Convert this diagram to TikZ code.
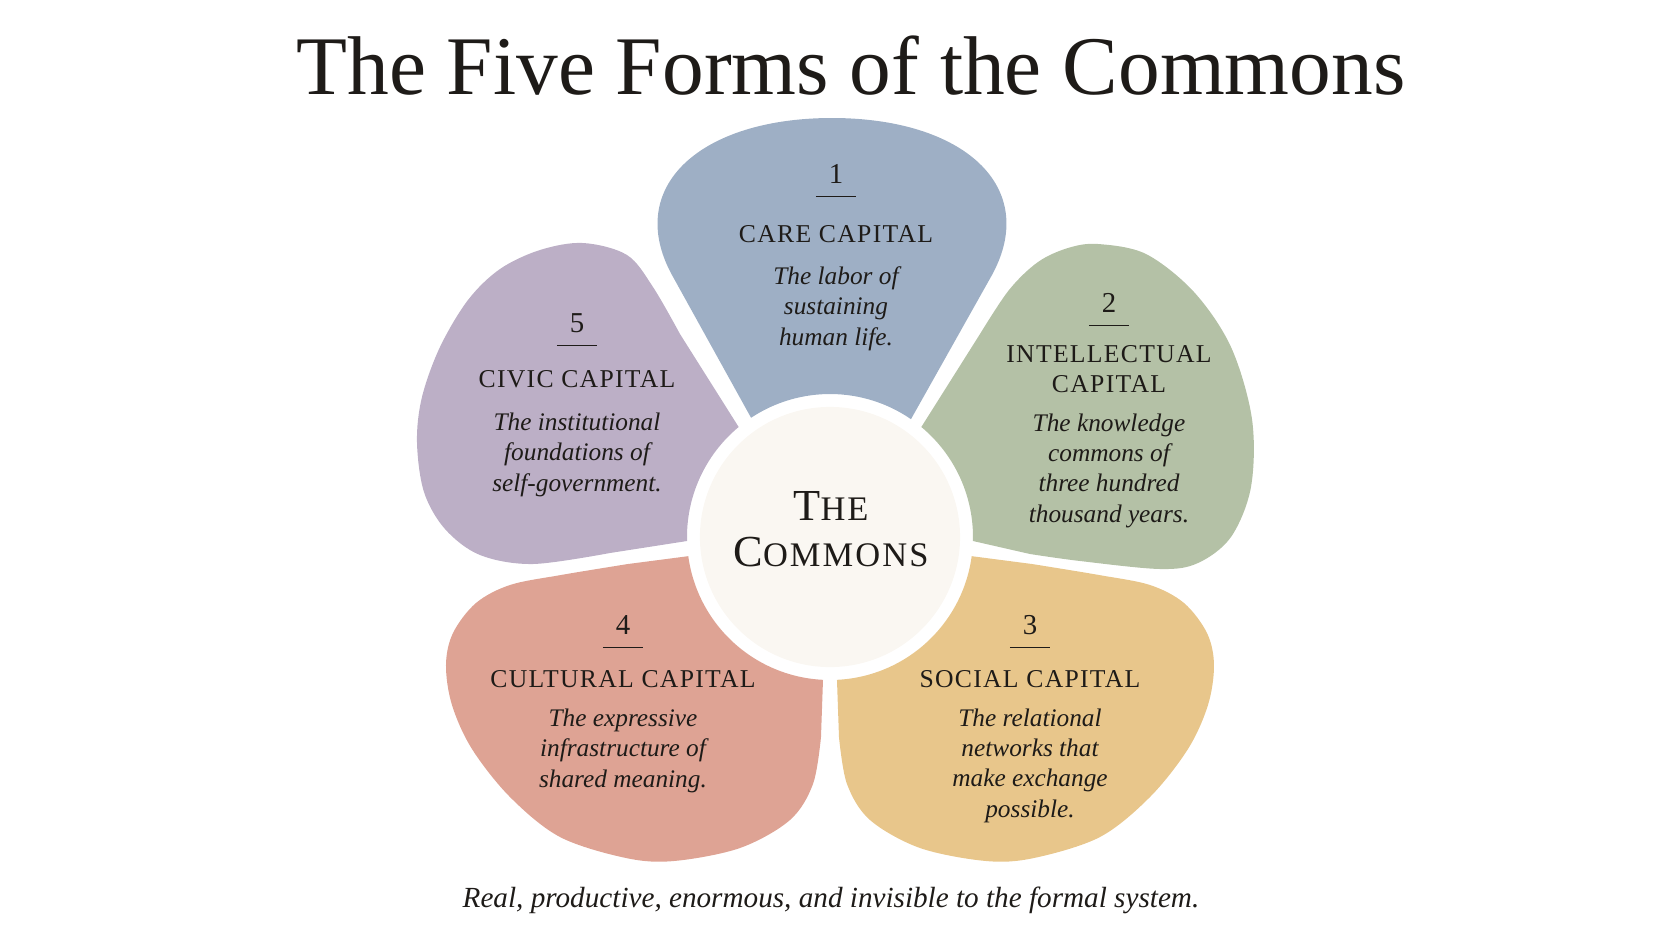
\documentclass[tikz,border=0pt]{standalone}
\usepackage{fontspec}
\setmainfont{Liberation Serif}
\newfontfamily\capsfont[LetterSpace=5]{Liberation Serif}
\newfontfamily\hubfont[LetterSpace=6]{Liberation Serif}
\usepackage{xcolor}
\usepackage{tikz}
\definecolor{ink}{HTML}{1E1B18}
\definecolor{petalblue}{HTML}{9EAFC5}
\definecolor{petalgreen}{HTML}{B4C1A6}
\definecolor{petalyellow}{HTML}{E8C68B}
\definecolor{petalred}{HTML}{DEA394}
\definecolor{petalpurple}{HTML}{BCAFC6}
\definecolor{hubcream}{HTML}{FAF7F2}

% petal outlines, in px about the centre of the flower
\newcommand{\carepetal}{(123.5:143) -- (-158,262) .. controls (-206,350) and (-130,419) .. (2,419)
  .. controls (134,419) and (210,350) .. (162,262) -- (55.5:143)
  arc[start angle=55.5, end angle=123.5, radius=143] -- cycle}
\newcommand{\sidepetal}{(50.3:143) -- plot[smooth, tension=0.55] coordinates {(150,203) (179,247)
  (208,275) (238,289) (268,293) (316,283) (364,245) (401,190) (422,118) (421,50) (401,0)
  (368,-26) (330,-32) (250,-24) (200,-17)} -- (-1.6:143)
  arc[start angle=-1.6, end angle=50.3, radius=143] -- cycle}
% civic petal, drawn mirrored
\newcommand{\civicpetal}{(50.3:143) -- plot[smooth, tension=0.55] coordinates {(150,203) (177,250)
  (203,282) (247,294) (290,287) (330,268) (362,237) (390,190) (408,140) (413,95) (406,45)
  (385,8) (350,-18) (297,-27) (220,-16)} -- (-1.6:143)
  arc[start angle=-1.6, end angle=50.3, radius=143] -- cycle}
\newcommand{\lowpetal}{(-87.2:143) arc[start angle=-87.2, end angle=-7.7, radius=143]
  -- plot[smooth, tension=0.55] coordinates {(202,-27) (269,-38) (320,-48) (354,-66) (377,-96)
  (384,-128) (378,-168) (358,-212) (320,-260) (270,-300) (204,-321) (156,-324) (90,-311)
  (40,-283) (17,-247) (9,-200)} -- cycle}

\begin{document}
\begin{tikzpicture}[x=0.01cm, y=0.01cm,
          petalnum/.style={font=\fontsize{8.2}{10}\selectfont, text=ink, inner sep=0, anchor=base},
          petalhead/.style={font=\capsfont\fontsize{7.3}{8.25}\selectfont, text=ink, align=center,
                            inner sep=0, anchor=base},
          petaltext/.style={font=\fontsize{7.2}{8.62}\selectfont\itshape, text=ink, align=center,
                            inner sep=0, anchor=base},
          numrule/.style={draw=ink, line width=0.45pt},
          hub/.style={circle, fill=hubcream, minimum size=2.6cm, inner sep=0},
          hubtext/.style={font=\hubfont\fontsize{12.6}{13}\selectfont, text=ink, align=center,
                          inner sep=0, anchor=base}
        ]
        \useasboundingbox (-830,-404) rectangle (842,537);

        \fill[petalblue]   \carepetal;
        \fill[petalgreen]  \sidepetal;
        \fill[petalyellow] \lowpetal;
        \begin{scope}[xscale=-1]
          \fill[petalpurple] \civicpetal;
          \fill[petalred]    \lowpetal;
        \end{scope}

        % base of a node with lines = baseline of its last line
        \node[hub] (hub) at (0,0) {};
        \node[hubtext] (hubname) at (1,-29)
          {T{\fontsize{9.8}{13}\selectfont HE}\\C{\fontsize{9.8}{13}\selectfont OMMONS}};

        \node[font=\fontsize{23.7}{28}\selectfont, text=ink, anchor=base, inner sep=0] (title) at (21,443)
          {The Five Forms of the Commons};
        \node[font=\fontsize{8.3}{10}\selectfont\itshape, text=ink, anchor=base, inner sep=0] (caption) at (1,-370)
          {Real, productive, enormous, and invisible to the formal system.};

        % 1 care
        \node[petalnum]  (n1) at (6,354)   {1};
        \node[petalhead] (h1) at (6,295)   {CARE CAPITAL};
        \node[petaltext] (d1) at (6,192)   {The labor of\\sustaining\\human life.};
        % 2 intellectual
        \node[petalnum]  (n2) at (279,225) {2};
        \node[petalhead] (h2) at (279,145) {INTELLECTUAL\\CAPITAL};
        \node[petaltext] (d2) at (279,15)  {The knowledge\\commons of\\three hundred\\thousand years.};
        % 3 social
        \node[petalnum]  (n3) at (200,-97) {3};
        \node[petalhead] (h3) at (200,-150) {SOCIAL CAPITAL};
        \node[petaltext] (d3) at (200,-280) {The relational\\networks that\\make exchange\\possible.};
        % 4 cultural
        \node[petalnum]  (n4) at (-207,-97) {4};
        \node[petalhead] (h4) at (-207,-150) {CULTURAL CAPITAL};
        \node[petaltext] (d4) at (-207,-250) {The expressive\\infrastructure of\\shared meaning.};
        % 5 civic
        \node[petalnum]  (n5) at (-253,205) {5};
        \node[petalhead] (h5) at (-253,150) {CIVIC CAPITAL};
        \node[petaltext] (d5) at (-253,46)  {The institutional\\foundations of\\self-government.};

        \foreach \n in {n1,n2,n3,n4,n5}
          \draw[numrule] ([shift={(-20,-13.5)}]\n.base) -- ([shift={(20,-13.5)}]\n.base);
      \end{tikzpicture}
\end{document}
